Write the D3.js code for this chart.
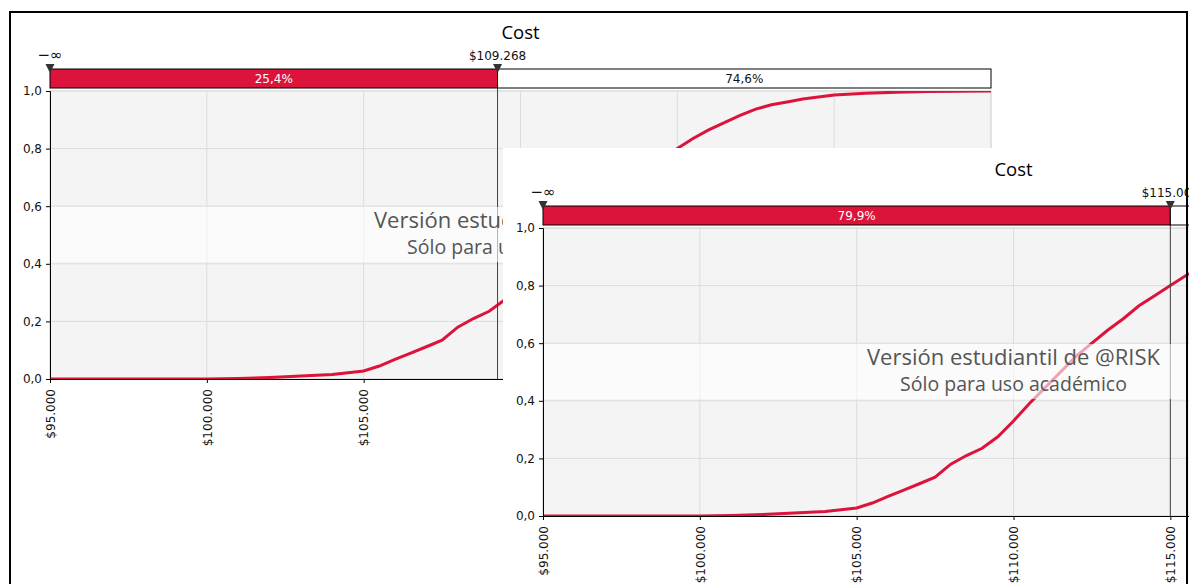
<!DOCTYPE html>
<html><head><meta charset="utf-8">
<script src="https://cdn.jsdelivr.net/npm/d3@7"></script>
<style>body{margin:0;background:#fff;} svg{display:block}</style>
</head><body><svg id="c" width="1189" height="584"></svg>
<script>
// ---- data ----
const costK = [95, 98, 100, 101, 102, 103, 104, 105, 105.5, 106, 106.5, 107, 107.5, 108, 108.5, 109, 109.5, 110, 110.5, 111, 111.5, 112, 112.5, 113, 113.5, 114, 114.5, 115, 115.5, 116, 116.5, 117, 117.5, 118, 118.5, 119, 120, 121, 122, 123, 125];
const cdf   = [0, 0, 0, 0.002, 0.005, 0.01, 0.016, 0.028, 0.045, 0.068, 0.09, 0.112, 0.135, 0.18, 0.21, 0.235, 0.275, 0.33, 0.39, 0.445, 0.5, 0.555, 0.6, 0.645, 0.685, 0.73, 0.765, 0.8, 0.835, 0.865, 0.89, 0.915, 0.937, 0.952, 0.962, 0.972, 0.986, 0.992, 0.996, 0.998, 1.0];
const xTicks = [95, 100, 105, 110, 115, 120, 125];
const xTickLabels = ["$95.000", "$100.000", "$105.000", "$110.000", "$115.000", "$120.000", "$125.000"];
const yTicks = [0, 0.2, 0.4, 0.6, 0.8, 1.0];
const yTickLabels = ["0,0", "0,2", "0,4", "0,6", "0,8", "1,0"];
const chartTitles = ["Cost", "Cost"];
const markerValues = [109.268, 115];
const markerLabels = ["$109.268", "$115.000"];
const leftPcts = ["25,4%", "79,9%"];
const rightPcts = ["74,6%", "20,1%"];
const watermark = ["Versión estudiantil de @RISK", "Sólo para uso académico"];

// ---- layout ----
const W = 941, H = 288;
const origins = [[50, 91], [543, 228]];
const RED = "#DC143C";
const svg = d3.select("#c");
const x = d3.scaleLinear().domain([95, 125]).range([0, W]);
const y = d3.scaleLinear().domain([0, 1]).range([H, 0]);
const data = costK.map((c, i) => ({c, p: cdf[i]}));
const TICKFONT = "DejaVu Sans, Verdana, sans-serif";
const FS = 12;

function drawChart(k) {
  const [ox, oy] = origins[k];
  const g = svg.append("g").attr("transform", `translate(${ox},${oy})`);
  // panel background
  g.append("rect").attr("x", -40).attr("y", -80).attr("width", 1400).attr("height", 700).attr("fill", "#fff");
  // title
  g.append("text").attr("x", W / 2).attr("y", -52).attr("text-anchor", "middle")
    .attr("font-family", "Open Sans, Noto Sans, sans-serif").attr("font-size", 18.5).attr("fill", "#000")
    .text(chartTitles[k]);
  // plot background
  const clipId = "clip" + k;
  g.append("clipPath").attr("id", clipId).append("rect").attr("width", W).attr("height", H);
  g.append("rect").attr("width", W).attr("height", H).attr("fill", "#f4f4f4").attr("stroke", "#d8d8d8");
  // grid
  g.append("g").selectAll("line").data(xTicks).join("line")
    .attr("x1", d => x(d)).attr("x2", d => x(d)).attr("y1", 0).attr("y2", H)
    .attr("stroke", "#dcdcdc").attr("stroke-width", 1);
  g.append("g").selectAll("line").data(yTicks).join("line")
    .attr("x1", 0).attr("x2", W).attr("y1", d => y(d)).attr("y2", d => y(d))
    .attr("stroke", "#dcdcdc").attr("stroke-width", 1);
  // curve
  const line = d3.line().x(d => x(d.c)).y(d => y(d.p));
  g.append("path").datum(data).attr("d", line).attr("fill", "none")
    .attr("stroke", RED).attr("stroke-width", 3).attr("clip-path", `url(#${clipId})`);
  // marker line
  const mx = x(markerValues[k]);
  g.append("line").attr("x1", mx).attr("x2", mx).attr("y1", -22).attr("y2", H)
    .attr("stroke", "#444").attr("stroke-width", 1);
  // watermark band
  g.append("rect").attr("x", 0).attr("width", W).attr("y", 116).attr("height", 55)
    .attr("fill", "#fff").attr("opacity", 0.6);
  g.append("text").attr("x", W / 2).attr("y", 137).attr("text-anchor", "middle")
    .attr("font-family", "Open Sans, Noto Sans, sans-serif").attr("font-size", 22).attr("fill", "#555")
    .text(watermark[0]);
  g.append("text").attr("x", W / 2).attr("y", 163).attr("text-anchor", "middle")
    .attr("font-family", "Open Sans, Noto Sans, sans-serif").attr("font-size", 19.5).attr("fill", "#555")
    .text(watermark[1]);
  // axes
  const yAxis = d3.axisLeft(y).tickValues(yTicks).tickFormat((d, i) => yTickLabels[i]).tickSizeOuter(0).tickSize(4).tickPadding(4);
  const ya = g.append("g").call(yAxis);
  ya.select(".domain").attr("stroke", "#000");
  ya.selectAll("text").attr("font-family", TICKFONT).attr("font-size", FS).attr("fill", "#111");
  const xAxis = d3.axisBottom(x).tickValues(xTicks).tickFormat((d, i) => xTickLabels[i]).tickSizeOuter(0).tickSize(4);
  const xa = g.append("g").attr("transform", `translate(0,${H})`).call(xAxis);
  xa.select(".domain").attr("stroke", "#000");
  xa.selectAll("text").attr("font-family", TICKFONT).attr("font-size", FS).attr("fill", "#111")
    .attr("transform", "rotate(-90)").attr("text-anchor", "end").attr("x", -10).attr("y", 0).attr("dy", "0.35em");
  // percentile bar
  g.append("rect").attr("x", 0).attr("y", -22).attr("width", mx).attr("height", 19)
    .attr("fill", RED).attr("stroke", "#000").attr("stroke-width", 1);
  g.append("rect").attr("x", mx).attr("y", -22).attr("width", W - mx).attr("height", 19)
    .attr("fill", "#fff").attr("stroke", "#000").attr("stroke-width", 1);
  g.append("text").attr("x", mx / 2).attr("y", -8).attr("text-anchor", "middle")
    .attr("font-family", TICKFONT).attr("font-size", FS).attr("fill", "#fff").text(leftPcts[k]);
  g.append("text").attr("x", (mx + W) / 2).attr("y", -8).attr("text-anchor", "middle")
    .attr("font-family", TICKFONT).attr("font-size", FS).attr("fill", "#111").text(rightPcts[k]);
  // marker labels & triangles
  [[0, "−∞", 15], [mx, markerLabels[k], FS]].forEach(([px, lab, fs]) => {
    g.append("text").attr("x", px).attr("y", -31).attr("text-anchor", "middle")
      .attr("font-family", TICKFONT).attr("font-size", fs).attr("fill", "#111").text(lab);
    g.append("path").attr("d", `M${px - 4.5},-27 L${px + 4.5},-27 L${px},-18 Z`).attr("fill", "#333");
  });
}
drawChart(0);
drawChart(1);
// outer frame
svg.append("path").attr("d", "M10,584 L10,12 L1187,12 L1187,584").attr("fill", "none").attr("stroke", "#000").attr("stroke-width", 2);
</script></body></html>
